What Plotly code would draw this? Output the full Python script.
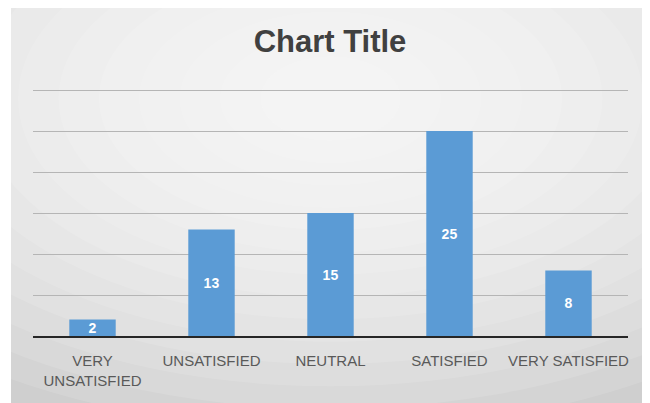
import plotly.graph_objects as go

categories = ["VERY<br>UNSATISFIED", "UNSATISFIED", "NEUTRAL", "SATISFIED", "VERY SATISFIED"]
values = [2, 13, 15, 25, 8]
title_text = "Chart Title"

# the page body adds an 8px offset; layout numbers are in figure pixels
W, H = 650, 403
YMAX = 30.5
ML, MR, MT, MB = 25, 30, 78, 75
PW, PH = W - ML - MR, H - MT - MB

fig = go.Figure()
fig.add_trace(go.Bar(
    x=categories, y=values,
    marker=dict(color="#5B9BD5", line=dict(width=0)),
    text=[str(v) for v in values],
    textposition="inside", insidetextanchor="middle",
    textangle=0, constraintext="none",
    textfont=dict(color="white", size=14, family="Liberation Sans"),
    texttemplate="<b>%{text}</b>",
    width=0.39,
    cliponaxis=False,
))

# radial-ish gradient background using stacked translucent ellipses
shapes = []
n = 14
for i in range(n):
    f = 1 - i / n
    rx = 0.95 * f + 0.05
    ry = 1.25 * f + 0.08
    cx, cy = 0.5, 0.95
    shapes.append(dict(type="circle", xref="paper", yref="paper",
                       x0=cx - rx, x1=cx + rx, y0=cy - ry, y1=cy + ry,
                       fillcolor="white", opacity=0.12, line=dict(width=0),
                       layer="below"))
# white left strip
shapes.append(dict(type="rect", xref="paper", yref="paper",
                   x0=-ML / PW - 0.01, x1=-(ML - 3) / PW, y0=-0.5, y1=1.6,
                   fillcolor="white", line=dict(width=0), layer="below"))

fig.update_layout(
    width=W, height=H,
    margin=dict(l=ML, r=MR, t=MT, b=MB),
    paper_bgcolor="#cfcfcf",
    plot_bgcolor="rgba(0,0,0,0)",
    title=dict(text="<b>" + title_text + "</b>", x=(322 - ML) / PW, xanchor="center", xref="paper",
               y=1 - 33 / H, yanchor="middle",
               font=dict(family="Liberation Sans", size=31, color="#404040")),
    showlegend=False,
    bargap=0.6,
    shapes=shapes,
    xaxis=dict(showgrid=False, showline=True, linecolor="#262626", linewidth=2,
               ticks="", tickangle=0,
               tickfont=dict(family="Liberation Sans", size=15, color="#595959"),
               ticklabelstandoff=10, range=[-0.5, 4.5]),
    yaxis=dict(range=[0, YMAX], tickvals=[0, 5, 10, 15, 20, 25, 30], showgrid=True,
               gridcolor="#b5b5b5", gridwidth=1,
               showticklabels=False, zeroline=False, showline=False, ticks=""),
    font=dict(family="Liberation Sans"),
)
fig.write_html("out.html", config={"displayModeBar": False})
